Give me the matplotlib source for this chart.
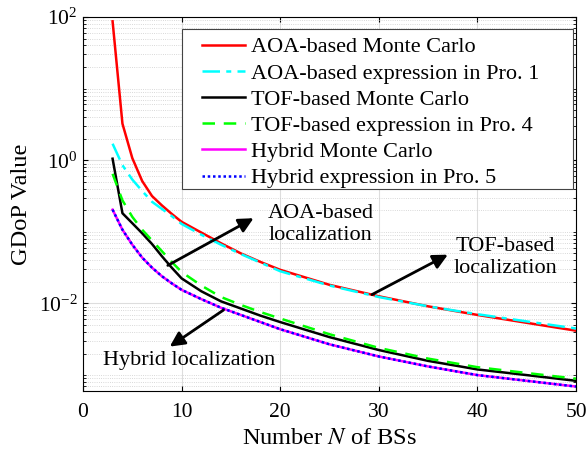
import numpy as np
import matplotlib
matplotlib.use("Agg")
import matplotlib.pyplot as plt
from matplotlib.patches import Rectangle
from matplotlib.ticker import LogLocator, NullFormatter

plt.rcParams["font.family"] = ["Liberation Serif", "DejaVu Serif"]
plt.rcParams["mathtext.fontset"] = "stix"

n_bs = [3, 4, 5, 6, 7, 8, 9, 10, 12, 14, 16, 18, 20, 25, 30, 35, 40, 45, 50]

aoa_mc = [87, 3.24, 1.07, 0.513, 0.316, 0.234, 0.178, 0.138, 0.0977, 0.0692,
          0.0501, 0.0380, 0.0295, 0.0182, 0.0126, 0.00912, 0.00692, 0.00537, 0.00417]
aoa_expr = [1.70, 0.851, 0.537, 0.372, 0.263, 0.209, 0.166, 0.129, 0.0912, 0.0661,
            0.0490, 0.0372, 0.0282, 0.0178, 0.0123, 0.00912, 0.00708, 0.00562, 0.00447]
tof_mc = [1.05, 0.182, 0.132, 0.0955, 0.0676, 0.0457, 0.0316, 0.0224, 0.0148, 0.0107,
          0.00851, 0.00676, 0.00550, 0.00339, 0.00224, 0.00158, 0.00120, 0.00100, 0.000832]
tof_expr = [0.646, 0.275, 0.162, 0.107, 0.0759, 0.0537, 0.0380, 0.0275, 0.0178, 0.0123,
            0.00955, 0.00759, 0.00617, 0.00372, 0.00240, 0.00170, 0.00129, 0.00107, 0.000891]
hyb_mc = [0.204, 0.107, 0.0661, 0.0437, 0.0316, 0.0240, 0.0191, 0.0155, 0.0115, 0.00871,
          0.00692, 0.00550, 0.00437, 0.00269, 0.00182, 0.00132, 0.00100, 0.000832, 0.000692]
hyb_expr = [0.204, 0.107, 0.0661, 0.0437, 0.0316, 0.0240, 0.0191, 0.0155, 0.0115, 0.00871,
            0.00692, 0.00550, 0.00437, 0.00269, 0.00182, 0.00132, 0.00100, 0.000832, 0.000692]

labels = ["AOA-based Monte Carlo", "AOA-based expression in Pro. 1",
          "TOF-based Monte Carlo", "TOF-based expression in Pro. 4",
          "Hybrid Monte Carlo", "Hybrid expression in Pro. 5"]

TICK_FS, LEG_FS, LAB_FS = 15.5, 16, 17.6
LW = 1.8

fig = plt.figure(figsize=(5.87, 4.49), dpi=100)
ax = fig.add_axes([0.1414, 0.1292, 0.8399, 0.833])

ax.plot(n_bs, aoa_mc, color="red", lw=LW, label=labels[0])
ax.plot(n_bs, aoa_expr, color="cyan", lw=LW, ls=(0, (7, 2.5, 2, 2.5)), label=labels[1])
ax.plot(n_bs, tof_mc, color="black", lw=LW, label=labels[2])
ax.plot(n_bs, tof_expr, color="#00ff00", lw=LW, ls=(0, (5, 3.5)), label=labels[3])
ax.plot(n_bs, hyb_mc, color="magenta", lw=LW, label=labels[4])
ax.plot(n_bs, hyb_expr, color="blue", lw=LW, ls=(0, (1, 1.1)), label=labels[5])

ax.set_yscale("log")
ax.set_xlim(0, 50)
ax.set_ylim(6e-4, 100)
ax.set_xticks([0, 10, 20, 30, 40, 50])
ax.yaxis.set_major_locator(LogLocator(base=100))
ax.yaxis.set_minor_locator(LogLocator(base=10, subs=np.arange(1, 10), numticks=20))
ax.yaxis.set_minor_formatter(NullFormatter())

ax.grid(True, which="major", color="#dddddd", lw=0.8)
ax.grid(True, which="minor", axis="y", color="#cccccc", ls=":", lw=0.6)
ax.set_axisbelow(True)
ax.tick_params(which="both", direction="in", top=True, right=True, labelsize=TICK_FS)
ax.tick_params(axis="x", pad=9)
ax.tick_params(axis="y", pad=4)
for s in ax.spines.values():
    s.set_linewidth(0.8)

ax.set_xlabel("Number $N$ of BSs", fontsize=LAB_FS, labelpad=4)
ax.set_ylabel("GDoP Value", fontsize=LAB_FS, labelpad=4.5)

# MATLAB-style legend box: wide margins, drawn separately from the entries
ax.add_patch(Rectangle((0.2002, 0.5393), 0.7931, 0.4278, transform=ax.transAxes,
                       facecolor="white", edgecolor="#444444", lw=0.8, zorder=4))
leg = ax.legend(loc="upper left", bbox_to_anchor=(0.2414, 0.947), fontsize=LEG_FS,
                frameon=False, labelspacing=0.255, handlelength=1.95,
                handletextpad=0.25, borderpad=0, borderaxespad=0)
leg.set_zorder(5)

arrow = dict(arrowstyle="-|>", lw=2, color="black", mutation_scale=22, shrinkA=0, shrinkB=0)
ax.annotate("", xy=(17.3, 0.155), xytext=(8.6, 0.034), arrowprops=arrow)
ax.annotate("", xy=(37.0, 0.048), xytext=(29.3, 0.0133), arrowprops=arrow)
ax.annotate("", xy=(8.8, 0.0025), xytext=(14.25, 0.0081), arrowprops=arrow)

# va="baseline" anchors the last line of multi-line text
ax.text(24.1, 0.0774, "AOA-based\nlocalization", fontsize=LEG_FS, ha="center",
        va="baseline", linespacing=1.2)
ax.text(42.8, 0.0270, "TOF-based\nlocalization", fontsize=LEG_FS, ha="center",
        va="baseline", linespacing=1.2)
ax.text(10.77, 0.00138, "Hybrid localization", fontsize=LEG_FS, ha="center", va="baseline")

fig.savefig("out.png", dpi=100)
